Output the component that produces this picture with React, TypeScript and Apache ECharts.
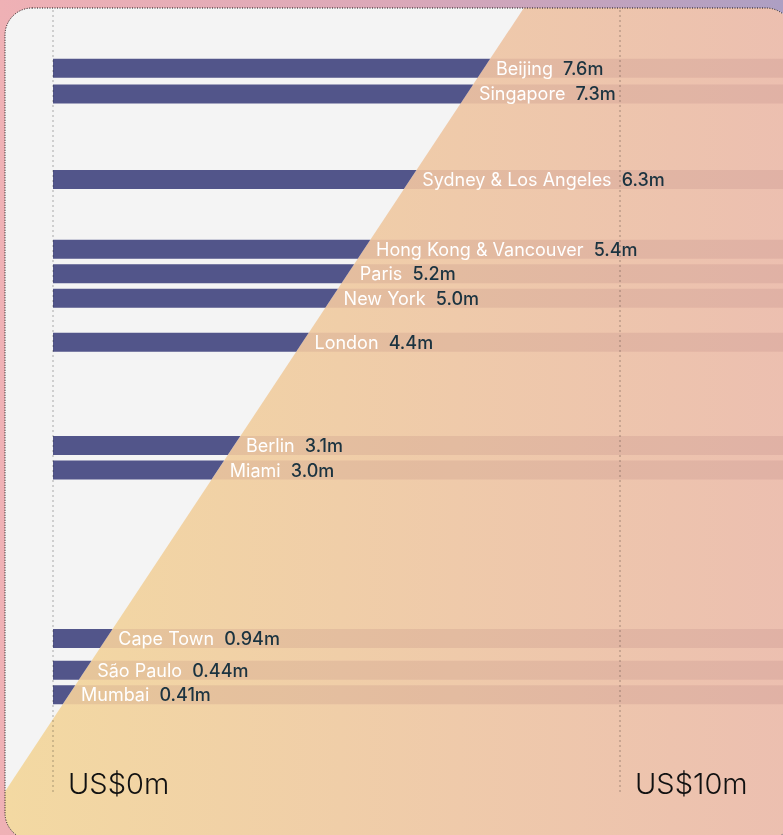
import React, { useEffect, useRef } from "react";
import * as echarts from "echarts";

const CITIES = [
  "Beijing",
  "Singapore",
  "Sydney & Los Angeles",
  "Hong Kong & Vancouver",
  "Paris",
  "New York",
  "London",
  "Berlin",
  "Miami",
  "Cape Town",
  "São Paulo",
  "Mumbai",
];
const VALUES = [7.6, 7.3, 6.3, 5.4, 5.2, 5.0, 4.4, 3.1, 3.0, 0.94, 0.44, 0.41];
const AXIS_TICKS = [0, 10];
const AXIS_TICK_LABELS = ["US$0m", "US$10m"];

const fmt = (v: number) => (v >= 1 ? v.toFixed(1) : v.toFixed(2)) + "m";

// spread label rows so that they keep a minimum distance (in data units)
function dodge(vals: number[], gap: number): number[] {
  const clusters: { idx: number[]; sum: number }[] = [];
  vals.forEach((v, i) => {
    clusters.push({ idx: [i], sum: v });
    while (clusters.length > 1) {
      const a = clusters[clusters.length - 2];
      const b = clusters[clusters.length - 1];
      const aBottom = a.sum / a.idx.length - (gap * (a.idx.length - 1)) / 2;
      const bTop = b.sum / b.idx.length + (gap * (b.idx.length - 1)) / 2;
      if (aBottom - bTop < gap) {
        clusters.pop();
        a.idx = a.idx.concat(b.idx);
        a.sum += b.sum;
      } else break;
    }
  });
  const out: number[] = new Array(vals.length);
  clusters.forEach((c) => {
    const n = c.idx.length;
    const mean = c.sum / n;
    c.idx.forEach((id, k) => {
      out[id] = mean + gap * ((n - 1) / 2 - k);
    });
  });
  return out;
}

const CARD = { x: 5, y: 8, width: 788, height: 832, r: 27 };

function roundedRectPoints(c: typeof CARD): number[][] {
  const pts: number[][] = [];
  const { x, y, width: w, height: h, r } = c;
  const corners = [
    [x + w - r, y + r, -Math.PI / 2],
    [x + w - r, y + h - r, 0],
    [x + r, y + h - r, Math.PI / 2],
    [x + r, y + r, Math.PI],
  ];
  corners.forEach(([cx, cy, a0]) => {
    for (let s = 0; s <= 10; s++) {
      const a = a0 + (s / 10) * (Math.PI / 2);
      pts.push([cx + r * Math.cos(a), cy + r * Math.sin(a)]);
    }
  });
  return pts;
}

export default function App() {
  const ref = useRef<HTMLDivElement>(null);
  useEffect(() => {
    if (!ref.current) return;
    const chart = echarts.init(ref.current, undefined, { renderer: "svg" });

    const YMAX = 8;
    const GRID_H = 685;
    const gapUnits = 24.5 / (GRID_H / YMAX);
    const rowPos = dodge(VALUES, gapUnits);
    const barData = VALUES.map((v, i) => [v, rowPos[i], i]);

    const diagFn = (api: any) => {
      const p0 = api.coord([0, 0]);
      const p1 = api.coord([YMAX, YMAX]);
      const k = (p1[0] - p0[0]) / (p1[1] - p0[1]);
      return (y: number) => p0[0] + (y - p0[1]) * k;
    };

    const font = "Inter, 'Noto Sans', sans-serif";

    const option: any = {
      animation: false,
      grid: { left: 53, width: 567, top: 34, height: GRID_H },
      xAxis: { type: "value", min: 0, max: 10, show: false },
      yAxis: { type: "value", min: 0, max: YMAX, show: false },
      graphic: [
        {
          type: "rect",
          silent: true,
          z: -10,
          shape: { x: 0, y: 0, width: 783, height: 835 },
          style: {
            fill: new echarts.graphic.LinearGradient(0, 0, 1, 0, [
              { offset: 0, color: "#efb1b5" },
              { offset: 0.5, color: "#dba8b8" },
              { offset: 1, color: "#ad9fc3" },
            ]),
          },
        },
        {
          type: "rect",
          silent: true,
          z: -9,
          shape: { ...CARD },
          style: { fill: "#f4f4f4" },
        },
        {
          type: "rect",
          silent: true,
          z: 100,
          shape: { ...CARD },
          style: { fill: "none", stroke: "#111", lineWidth: 1, lineDash: [1, 1.5] },
        },
      ],
      series: [
        {
          type: "custom",
          z: 1,
          silent: true,
          clip: false,
          data: [[0, 0]],
          renderItem: (params: any, api: any) => {
            const diag = diagFn(api);
            const pts = roundedRectPoints(CARD);
            const f = (P: number[]) => P[0] - diag(P[1]);
            const out: number[][] = [];
            for (let i = 0; i < pts.length; i++) {
              const cur = pts[i];
              const prev = pts[(i - 1 + pts.length) % pts.length];
              const fc = f(cur);
              const fp = f(prev);
              const inter = () => {
                const t = fp / (fp - fc);
                return [prev[0] + t * (cur[0] - prev[0]), prev[1] + t * (cur[1] - prev[1])];
              };
              if (fc >= 0) {
                if (fp < 0) out.push(inter());
                out.push(cur);
              } else if (fp >= 0) {
                out.push(inter());
              }
            }
            return {
              type: "polygon",
              shape: { points: out },
              style: {
                fill: new echarts.graphic.LinearGradient(0, 0, 1, 0, [
                  { offset: 0, color: "#f3d9a2" },
                  { offset: 1, color: "#ecbfb0" },
                ]),
              },
            };
          },
        },
        {
          type: "custom",
          z: 2,
          silent: true,
          clip: false,
          data: barData,
          renderItem: (params: any, api: any) => {
            const diag = diagFn(api);
            const yc = api.coord([0, api.value(1)])[1];
            const x0 = api.coord([0, 0])[0];
            const h = 19;
            const top = yc - h / 2;
            const bot = yc + h / 2;
            const xt = diag(top);
            const xb = diag(bot);
            const xr = 800;
            return {
              type: "group",
              children: [
                {
                  type: "polygon",
                  shape: { points: [[x0, top], [xt, top], [xb, bot], [x0, bot]] },
                  style: { fill: "#52558a" },
                },
                {
                  type: "polygon",
                  shape: { points: [[xt, top], [xr, top], [xr, bot], [xb, bot]] },
                  style: { fill: "rgba(160,100,110,0.15)" },
                },
              ],
            };
          },
        },
        {
          type: "custom",
          z: 3,
          silent: true,
          clip: false,
          data: AXIS_TICKS.map((t, i) => [t, 0, i]),
          renderItem: (params: any, api: any) => {
            const x = api.coord([api.value(0), 0])[0];
            const i = api.value(2);
            return {
              type: "group",
              children: [
                {
                  type: "line",
                  shape: { x1: x, y1: 10, x2: x, y2: 795 },
                  style: { stroke: "rgba(0,0,0,0.26)", lineWidth: 1.2, lineDash: [2, 3] },
                },
                {
                  type: "text",
                  style: {
                    x: x + 15,
                    y: 783,
                    text: AXIS_TICK_LABELS[i],
                    fill: "#111",
                    fontSize: 29,
                    fontWeight: 300,
                    fontFamily: font,
                    verticalAlign: "middle",
                    align: "left",
                  },
                },
              ],
            };
          },
        },
        {
          type: "custom",
          z: 4,
          silent: true,
          clip: false,
          data: barData,
          renderItem: (params: any, api: any) => {
            const diag = diagFn(api);
            const yc = api.coord([0, api.value(1)])[1];
            const i = api.value(2);
            return {
              type: "text",
              style: {
                x: diag(yc) + 12,
                y: yc,
                text: `{n|${CITIES[i]}}  {v|${fmt(VALUES[i])}}`,
                verticalAlign: "middle",
                align: "left",
                fontSize: 18,
                fontFamily: font,
                rich: {
                  n: { fill: "#ffffff", fontSize: 18, fontFamily: font, fontWeight: 400 },
                  v: { fill: "#1b3340", fontSize: 18, fontFamily: font, fontWeight: 500 },
                },
              },
            };
          },
        },
      ],
    };
    chart.setOption(option);
    return () => chart.dispose();
  }, []);
  return (
    <div
      ref={ref}
      style={{ position: "fixed", left: 0, top: 0, width: 783, height: 835 }}
    />
  );
}
